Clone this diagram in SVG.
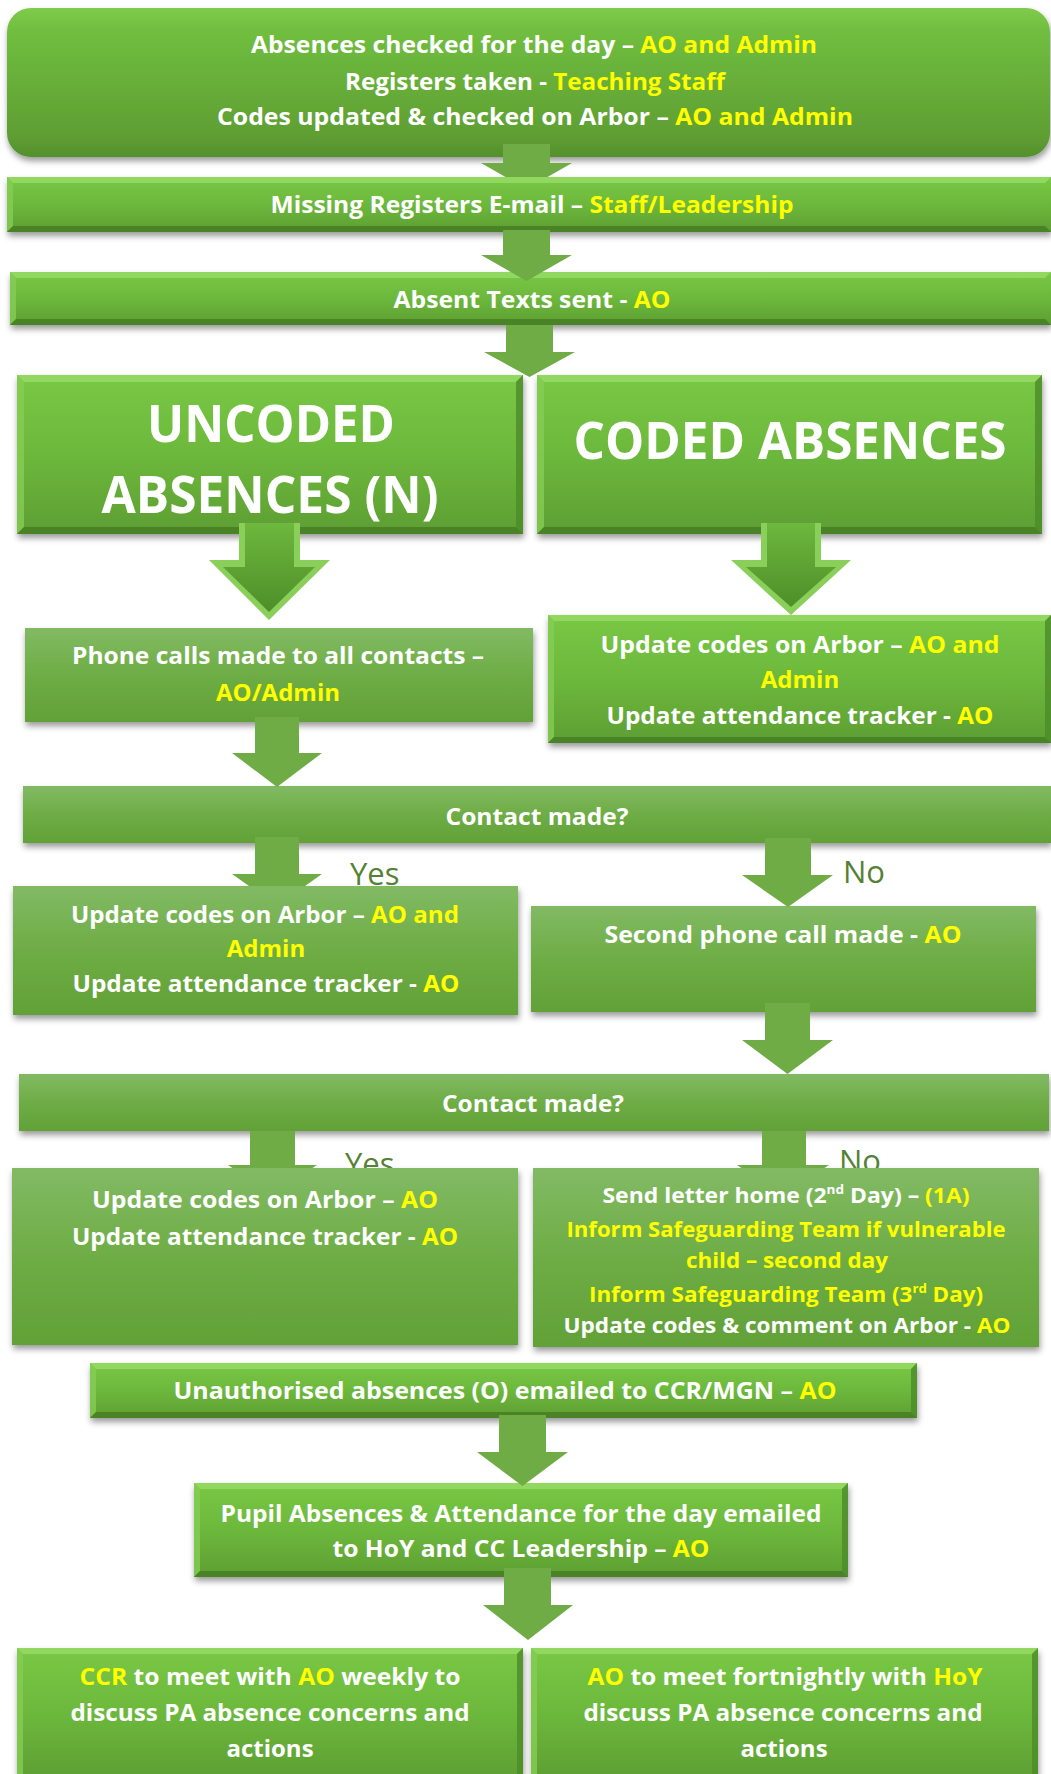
<svg xmlns="http://www.w3.org/2000/svg" width="1051" height="1774" viewBox="0 0 1051 1774">
<defs>
<linearGradient id="gBev" x1="0" y1="0" x2="0" y2="1">
<stop offset="0" stop-color="#79C845"/><stop offset="0.5" stop-color="#6CB83C"/><stop offset="1" stop-color="#5E9E33"/>
</linearGradient>
<linearGradient id="gFlat" x1="0" y1="0" x2="0" y2="1">
<stop offset="0" stop-color="#82BA64"/><stop offset="0.5" stop-color="#6EAD45"/><stop offset="1" stop-color="#61A137"/>
</linearGradient>
<linearGradient id="gTop" x1="0" y1="0" x2="0" y2="1">
<stop offset="0" stop-color="#7FCB4B"/><stop offset="0.15" stop-color="#70BE3F"/><stop offset="0.85" stop-color="#5F9F33"/><stop offset="1" stop-color="#54902C"/>
</linearGradient>
<linearGradient id="gArr" x1="0" y1="0" x2="0" y2="1">
<stop offset="0" stop-color="#6DB83D"/><stop offset="1" stop-color="#4E8E29"/>
</linearGradient>
<filter id="sh" x="-5%" y="-10%" width="110%" height="130%">
<feDropShadow dx="1" dy="4" stdDeviation="3" flood-color="#000" flood-opacity="0.4"/>
</filter>
<clipPath id="clipYN"><rect x="0" y="1100" width="1051" height="68"/></clipPath>
<style>
.bev{fill:url(#gBev)}
.flat{fill:url(#gFlat)}
.bt{fill:#97DA66;opacity:0.85}
.bl{fill:#86CD55;opacity:0.8}
.br{fill:#4E8D2A;opacity:0.85}
.bb{fill:#467F24;opacity:0.9}
.arr{fill:#6FAC46}
.big-o{fill:#8ACF5A}
.big-i{fill:url(#gArr)}
text{font-family:"Open Sans","Liberation Sans",sans-serif;font-weight:bold;fill:#FFFFFF;text-anchor:middle}
.m{font-size:24px}
.s{font-size:22px}
.b{font-size:52px}
.y{fill:#FFFF00}
.yn{font-weight:normal;font-size:31px;fill:#548235;text-anchor:start}
</style>
</defs>
<rect x="0" y="0" width="1051" height="1774" fill="#FFFFFF"/>

<g id="n1">
<rect x="7" y="8" width="1043" height="149" rx="24" ry="24" fill="url(#gTop)" filter="url(#sh)"/>
<text class="m" x="534" y="53" textLength="566" lengthAdjust="spacingAndGlyphs">Absences checked for the day – <tspan class="y">AO and Admin</tspan></text>
<text class="m" x="535" y="90" textLength="380" lengthAdjust="spacingAndGlyphs">Registers taken - <tspan class="y">Teaching Staff</tspan></text>
<text class="m" x="535" y="125" textLength="636" lengthAdjust="spacingAndGlyphs">Codes updated &amp; checked on Arbor – <tspan class="y">AO and Admin</tspan></text>
</g>

<g id="n2">
<g filter="url(#sh)">
<rect class="bev" x="7" y="177" width="1044" height="55"/>
<path class="bt" d="M7 177 h1044 l-6 6 h-1032 z"/>
<path class="bl" d="M7 177 l6 6 v43 l-6 6 z"/>
<path class="bb" d="M7 232 h1044 l-6 -6 h-1032 z"/>
</g>
<text class="m" x="532" y="213" textLength="523" lengthAdjust="spacingAndGlyphs">Missing Registers E-mail – <tspan class="y">Staff/Leadership</tspan></text>
</g>

<g id="n3">
<g filter="url(#sh)">
<rect class="bev" x="10" y="272" width="1041" height="53"/>
<path class="bt" d="M10 272 h1041 l-6 6 h-1029 z"/>
<path class="bl" d="M10 272 l6 6 v41 l-6 6 z"/>
<path class="bb" d="M10 325 h1041 l-6 -6 h-1029 z"/>
</g>
<text class="m" x="532" y="308" textLength="277" lengthAdjust="spacingAndGlyphs">Absent Texts sent - <tspan class="y">AO</tspan></text>
</g>

<g id="n4">
<g filter="url(#sh)">
<rect class="bev" x="17" y="375" width="506" height="159"/>
<path class="bt" d="M17 375 h506 l-7 7 h-492 z"/>
<path class="bl" d="M17 375 l7 7 v145 l-7 7 z"/>
<path class="br" d="M523 375 v159 l-7 -7 v-145 z"/>
<path class="bb" d="M17 534 h506 l-7 -7 h-492 z"/>
</g>
<text class="b" x="271" y="442" textLength="248" lengthAdjust="spacingAndGlyphs">UNCODED</text>
<text class="b" x="270" y="513" textLength="337" lengthAdjust="spacingAndGlyphs">ABSENCES (N)</text>
</g>

<g id="n5">
<g filter="url(#sh)">
<rect class="bev" x="537" y="375" width="505" height="159"/>
<path class="bt" d="M537 375 h505 l-7 7 h-491 z"/>
<path class="bl" d="M537 375 l7 7 v145 l-7 7 z"/>
<path class="br" d="M1042 375 v159 l-7 -7 v-145 z"/>
<path class="bb" d="M537 534 h505 l-7 -7 h-491 z"/>
</g>
<text class="b" x="790" y="459" textLength="433" lengthAdjust="spacingAndGlyphs">CODED ABSENCES</text>
</g>

<g id="n6">
<rect class="flat" x="25" y="628" width="508" height="94" filter="url(#sh)"/>
<text class="m" x="278" y="664" textLength="412" lengthAdjust="spacingAndGlyphs">Phone calls made to all contacts –</text>
<text class="m y" x="278" y="701">AO/Admin</text>
</g>

<g id="n7">
<g filter="url(#sh)">
<rect class="bev" x="548" y="615" width="503" height="128"/>
<path class="bt" d="M548 615 h503 l-6 6 h-491 z"/>
<path class="bl" d="M548 615 l6 6 v116 l-6 6 z"/>
<path class="br" d="M1051 615 v128 l-6 -6 v-116 z"/>
<path class="bb" d="M548 743 h503 l-6 -6 h-491 z"/>
</g>
<text class="m" x="800" y="653" textLength="399" lengthAdjust="spacingAndGlyphs">Update codes on Arbor – <tspan class="y">AO and</tspan></text>
<text class="m y" x="800" y="688">Admin</text>
<text class="m" x="800" y="724" textLength="387" lengthAdjust="spacingAndGlyphs">Update attendance tracker - <tspan class="y">AO</tspan></text>
</g>

<g id="n8">
<rect class="flat" x="23" y="786" width="1028" height="57" filter="url(#sh)"/>
<text class="m" x="537" y="825" textLength="183" lengthAdjust="spacingAndGlyphs">Contact made?</text>
</g>

<g id="n9">
<rect class="flat" x="13" y="886" width="505" height="129" filter="url(#sh)"/>
<text class="m" x="265" y="923" textLength="388" lengthAdjust="spacingAndGlyphs">Update codes on Arbor – <tspan class="y">AO and</tspan></text>
<text class="m y" x="266" y="957">Admin</text>
<text class="m" x="266" y="992" textLength="387" lengthAdjust="spacingAndGlyphs">Update attendance tracker - <tspan class="y">AO</tspan></text>
</g>

<g id="n10">
<rect class="flat" x="531" y="906" width="505" height="106" filter="url(#sh)"/>
<text class="m" x="783" y="943" textLength="357" lengthAdjust="spacingAndGlyphs">Second phone call made - <tspan class="y">AO</tspan></text>
</g>

<g id="n11">
<rect class="flat" x="19" y="1074" width="1030" height="57" filter="url(#sh)"/>
<text class="m" x="533" y="1112" textLength="182" lengthAdjust="spacingAndGlyphs">Contact made?</text>
</g>

<g id="n12">
<rect class="flat" x="12" y="1168" width="506" height="177" filter="url(#sh)"/>
<text class="m" x="265" y="1208" textLength="346" lengthAdjust="spacingAndGlyphs">Update codes on Arbor – <tspan class="y">AO</tspan></text>
<text class="m" x="265" y="1245" textLength="386" lengthAdjust="spacingAndGlyphs">Update attendance tracker - <tspan class="y">AO</tspan></text>
</g>

<g id="n13">
<rect class="flat" x="533" y="1168" width="506" height="179" filter="url(#sh)"/>
<text class="s" x="786" y="1203" textLength="367" lengthAdjust="spacingAndGlyphs">Send letter home (2<tspan font-size="13" dy="-9">nd</tspan><tspan dy="9"> Day) – </tspan><tspan class="y">(1A)</tspan></text>
<text class="s y" x="786" y="1237" textLength="439" lengthAdjust="spacingAndGlyphs">Inform Safeguarding Team if vulnerable</text>
<text class="s y" x="787" y="1268" textLength="202" lengthAdjust="spacingAndGlyphs">child – second day</text>
<text class="s y" x="786" y="1302" textLength="394" lengthAdjust="spacingAndGlyphs">Inform Safeguarding Team (3<tspan font-size="13" dy="-9">rd</tspan><tspan dy="9"> Day)</tspan></text>
<text class="s" x="787" y="1333" textLength="447" lengthAdjust="spacingAndGlyphs">Update codes &amp; comment on Arbor - <tspan class="y">AO</tspan></text>
</g>

<g id="n14">
<g filter="url(#sh)">
<rect class="bev" x="90" y="1363" width="827" height="55"/>
<path class="bt" d="M90 1363 h827 l-6 6 h-815 z"/>
<path class="bl" d="M90 1363 l6 6 v43 l-6 6 z"/>
<path class="br" d="M917 1363 v55 l-6 -6 v-43 z"/>
<path class="bb" d="M90 1418 h827 l-6 -6 h-815 z"/>
</g>
<text class="m" x="505" y="1399" textLength="663" lengthAdjust="spacingAndGlyphs">Unauthorised absences (O) emailed to CCR/MGN – <tspan class="y">AO</tspan></text>
</g>

<g id="n15">
<g filter="url(#sh)">
<rect class="bev" x="194" y="1483" width="654" height="94"/>
<path class="bt" d="M194 1483 h654 l-6 6 h-642 z"/>
<path class="bl" d="M194 1483 l6 6 v82 l-6 6 z"/>
<path class="br" d="M848 1483 v94 l-6 -6 v-82 z"/>
<path class="bb" d="M194 1577 h654 l-6 -6 h-642 z"/>
</g>
<text class="m" x="521" y="1522" textLength="601" lengthAdjust="spacingAndGlyphs">Pupil Absences &amp; Attendance for the day emailed</text>
<text class="m" x="521" y="1557" textLength="377" lengthAdjust="spacingAndGlyphs">to HoY and CC Leadership – <tspan class="y">AO</tspan></text>
</g>

<g id="n16">
<g filter="url(#sh)">
<rect class="bev" x="17" y="1648" width="506" height="132"/>
<path class="bt" d="M17 1648 h506 l-6 6 h-494 z"/>
<path class="bl" d="M17 1648 l6 6 v126 h-6 z"/>
<path class="br" d="M523 1648 v132 h-6 v-126 z"/>
</g>
<text class="m" x="270" y="1685" textLength="381" lengthAdjust="spacingAndGlyphs"><tspan class="y">CCR</tspan> to meet with <tspan class="y">AO</tspan> weekly to</text>
<text class="m" x="270" y="1721" textLength="399" lengthAdjust="spacingAndGlyphs">discuss PA absence concerns and</text>
<text class="m" x="270" y="1757">actions</text>
</g>

<g id="n17">
<g filter="url(#sh)">
<rect class="bev" x="531" y="1648" width="507" height="132"/>
<path class="bt" d="M531 1648 h507 l-6 6 h-495 z"/>
<path class="bl" d="M531 1648 l6 6 v126 h-6 z"/>
<path class="br" d="M1038 1648 v132 h-6 v-126 z"/>
</g>
<text class="m" x="785" y="1685" textLength="395" lengthAdjust="spacingAndGlyphs"><tspan class="y">AO</tspan> to meet fortnightly with <tspan class="y">HoY</tspan></text>
<text class="m" x="783" y="1721" textLength="399" lengthAdjust="spacingAndGlyphs">discuss PA absence concerns and</text>
<text class="m" x="784" y="1757">actions</text>
</g>

<g id="connectors">
<polygon class="arr" points="503,144 550,144 550,163 572,163 547.5,177 505.5,177 481,163 503,163"/>
<polygon class="arr" points="503,230 550,230 550,255 572,255 526.5,281 481,255 503,255"/>
<polygon class="arr" points="506,325 553,325 553,352 575,352 529.5,377 484,352 506,352"/>
<g>
<polygon class="big-o" points="239,523 300,523 300,560 330,560 269,620 209,560 239,560"/>
<polygon class="big-i" points="245,523 294,523 294,567 315,567 269,612 223,567 245,567"/>
</g>
<g>
<polygon class="big-o" points="761,523 821,523 821,560 851,560 791,615 731,560 761,560"/>
<polygon class="big-i" points="767,523 815,523 815,567 836,567 791,607 746,567 767,567"/>
</g>
<polygon class="arr" points="255,717 299,717 299,753 322,753 277,787 232,753 255,753"/>
<polygon class="arr" points="255,837 299,837 299,874 322,874 305,886 249,886 232,874 255,874"/>
<polygon class="arr" points="765,838 811,838 811,875 833,875 788,907 742,875 765,875"/>
<polygon class="arr" points="765,1003 810,1003 810,1040 833,1040 787.5,1074 742,1040 765,1040"/>
<polygon class="arr" points="250,1131 295,1131 295,1165 317,1165 312.5,1168 232.5,1168 228,1165 250,1165"/>
<polygon class="arr" points="762,1131 806,1131 806,1165 829,1165 824.5,1168 741.5,1168 737,1165 762,1165"/>
<polygon class="arr" points="499,1415 546,1415 546,1452 568,1452 522.5,1486 477,1452 499,1452"/>
<polygon class="arr" points="504,1568 551,1568 551,1605 573,1605 528,1640 483,1605 504,1605"/>
<text class="yn" x="350" y="885">Yes</text>
<text class="yn" x="843" y="883">No</text>
<g clip-path="url(#clipYN)">
<text class="yn" x="345" y="1175">Yes</text>
<text class="yn" x="839" y="1172">No</text>
</g>
</g>
</svg>
